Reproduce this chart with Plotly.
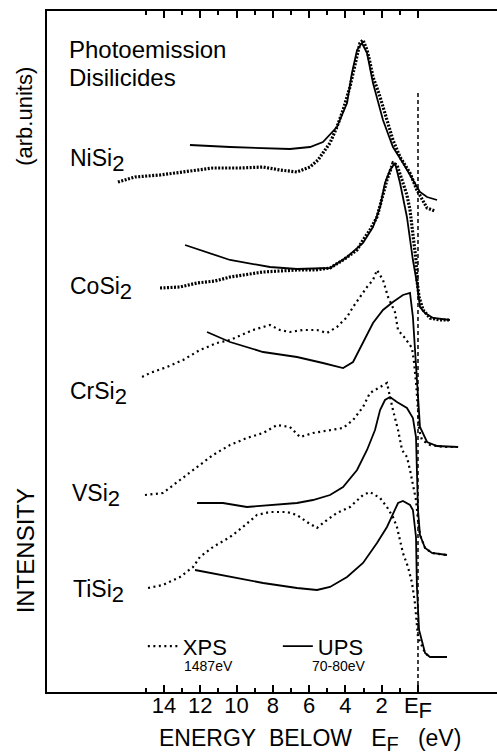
import plotly.graph_objects as go

# ---- data: energy below E_F (eV) and intensity (arb. units, spectra offset) ----
nisi2_xps_e = [16.54, 15.60, 14.22, 12.84, 11.30, 9.81, 8.54, 7.61, 6.67, 5.95, 5.51, 5.24, 4.85, 4.47, 4.13,
               3.75, 3.53, 3.36, 3.20, 3.03, 2.81, 2.65, 2.48, 2.26, 2.09, 1.71, 1.38, 0.99, 0.72, 0.44, 0.06,
               -0.28, -0.50, -0.94]
nisi2_xps_i = [510, 515, 517, 520, 524, 524, 525, 522, 520, 525, 532, 539, 549, 565, 582,
               605, 622, 635, 649, 652, 642, 630, 615, 604, 595, 572, 552, 535, 527, 519, 502,
               492, 484, 481]
nisi2_ups_e = [12.57, 10.36, 7.06, 5.95, 5.24, 4.47, 3.91, 3.64, 3.36, 3.09, 2.81, 2.48, 1.93, 1.38, 0.83,
               0.28, -0.11, -0.50, -1.05]
nisi2_ups_i = [547, 545, 543, 545, 550, 565, 589, 619, 642, 649, 639, 609, 572, 545, 529,
               512, 500, 495, 492]

cosi2_xps_e = [14.22, 13.12, 12.18, 11.19, 10.36, 9.26, 8.54, 7.61, 6.67, 5.68, 4.85, 4.13, 3.75, 3.36, 3.03,
               2.65, 2.26, 1.98, 1.71, 1.38, 1.16, 0.88, 0.61, 0.44, 0.28, 0.11, 0.06, -0.06, -0.28, -0.66,
               -1.21, -1.76]
cosi2_xps_i = [404, 405, 409, 411, 415, 418, 420, 421, 422, 422, 424, 432, 437, 442, 452,
               462, 475, 495, 512, 529, 527, 512, 497, 482, 459, 432, 412, 395, 382, 374,
               372, 372]
cosi2_ups_e = [12.84, 10.36, 8.16, 6.67, 4.85, 3.91, 3.03, 2.48, 2.09, 1.82, 1.54, 1.27, 0.99, 0.61, 0.28,
               0.06, -0.11, -0.39, -0.83, -1.76]
cosi2_ups_i = [447, 432, 425, 423, 424, 435, 449, 465, 485, 509, 522, 529, 509, 475, 432,
               409, 385, 379, 374, 372]

crsi2_xps_e = [15.21, 14.77, 13.84, 12.95, 12.02, 11.08, 10.36, 9.54, 9.10, 8.16, 7.61, 7.06, 6.34, 5.57, 5.02,
               4.47, 3.91, 3.58, 3.20, 2.81, 2.48, 2.26, 1.93, 1.65, 1.27, 1.10, 0.72, 0.33, 0.22, 0.11,
               0.00, -0.06, -0.22, -0.66, -1.49, -2.21]
crsi2_xps_i = [315, 319, 325, 332, 342, 349, 352, 359, 362, 367, 362, 360, 362, 362, 359,
               365, 375, 385, 395, 405, 412, 422, 412, 395, 380, 362, 354, 344, 330, 310,
               282, 262, 252, 247, 245, 245]
crsi2_ups_e = [11.63, 10.36, 8.54, 6.67, 5.24, 4.13, 3.58, 3.03, 2.48, 1.93, 1.38, 0.83, 0.44, 0.28, 0.17,
               0.06, -0.06, -0.11, -0.50, -1.05, -2.21]
crsi2_ups_i = [360, 350, 340, 335, 329, 324, 330, 349, 369, 382, 390, 397, 399, 375, 342,
               309, 275, 265, 250, 246, 245]

vsi2_xps_e = [15.05, 14.06, 13.12, 12.18, 11.30, 10.36, 9.43, 8.54, 7.77, 7.06, 6.50, 5.79, 4.85, 4.13, 3.58,
              3.03, 2.65, 2.09, 1.71, 1.38, 1.10, 0.88, 0.61, 0.44, 0.28, 0.11, 0.00, -0.11, -0.39, -0.77,
              -1.60]
vsi2_xps_i = [197, 199, 212, 225, 237, 247, 254, 259, 267, 265, 255, 259, 262, 264, 272,
              285, 299, 305, 309, 282, 262, 242, 235, 222, 209, 192, 172, 157, 144, 139,
              137]
vsi2_ups_e = [12.18, 10.75, 9.43, 8.16, 6.67, 5.79, 4.85, 4.13, 3.36, 2.81, 2.37, 2.09, 1.82, 1.54, 1.16,
              0.61, 0.28, 0.11, 0.06, 0.00, -0.11, -0.39, -0.77, -1.60]
vsi2_ups_i = [189, 189, 185, 187, 189, 192, 197, 205, 222, 242, 262, 282, 292, 295, 290,
              284, 274, 255, 222, 182, 157, 144, 139, 137]

tisi2_xps_e = [14.88, 14.06, 13.12, 12.40, 12.02, 11.30, 10.36, 9.65, 8.88, 8.16, 7.22, 6.67, 6.12, 5.57, 5.02,
               4.47, 3.75, 3.03, 2.65, 2.09, 1.71, 1.38, 1.16, 0.99, 0.83, 0.55, 0.33, 0.17, 0.06, 0.00,
               -0.39, -0.66, -1.60]
tisi2_xps_i = [104, 107, 115, 125, 135, 145, 155, 165, 177, 180, 180, 177, 170, 164, 172,
               179, 185, 197, 200, 194, 185, 175, 165, 152, 139, 125, 109, 89, 69, 55,
               39, 35, 35]
tisi2_ups_e = [12.29, 10.36, 8.54, 6.67, 5.57, 4.85, 3.91, 3.03, 2.26, 1.71, 1.38, 1.10, 0.83, 0.44, 0.28,
               0.11, 0.06, -0.06, -0.39, -0.66, -1.60]
tisi2_ups_i = [122, 115, 109, 104, 102, 105, 115, 129, 149, 165, 179, 189, 191, 187, 182,
               155, 105, 62, 39, 35, 35]

spectra = [
    ("NiSi", nisi2_xps_e, nisi2_xps_i, nisi2_ups_e, nisi2_ups_i, "dense"),
    ("CoSi", cosi2_xps_e, cosi2_xps_i, cosi2_ups_e, cosi2_ups_i, "dense"),
    ("CrSi", crsi2_xps_e, crsi2_xps_i, crsi2_ups_e, crsi2_ups_i, "sparse"),
    ("VSi", vsi2_xps_e, vsi2_xps_i, vsi2_ups_e, vsi2_ups_i, "sparse"),
    ("TiSi", tisi2_xps_e, tisi2_xps_i, tisi2_ups_e, tisi2_ups_i, "sparse"),
]

# label positions (energy, intensity) for compound names
label_names = ["NiSi", "CoSi", "CrSi", "VSi", "TiSi"]
label_e = [19.30, 19.30, 19.30, 19.20, 19.10]
label_i = [532, 404, 299, 197, 101]

major_ticks = [14, 12, 10, 8, 6, 4, 2, 0]
major_text = ["14", "12", "10", "8", "6", "4", "2", "E<sub><span style='font-size:22px'>F</span></sub>"]
minor_ticks = [15, 13, 11, 9, 7, 5, 3, 1]

ef_line_top = 600

FONT = "Liberation Sans"

fig = go.Figure()

for name, xe, xi, ue, ui, dens in spectra:
    fig.add_trace(go.Scatter(x=ue, y=ui, mode="lines", line=dict(color="black", width=1.8),
                             name="UPS", showlegend=False, hoverinfo="skip"))
    if dens == "dense":
        ln = dict(color="black", width=3.2, dash="2px,1.5px")
    else:
        ln = dict(color="black", width=2.2, dash="2px,3.5px")
    fig.add_trace(go.Scatter(x=xe, y=xi, mode="lines", line=ln,
                             name="XPS", showlegend=False, hoverinfo="skip"))

# legend entries (two separate legends)
fig.add_trace(go.Scatter(x=[None], y=[None], mode="lines", legend="legend",
                         line=dict(color="black", width=2.2, dash="2px,3.5px"), name="XPS"))
fig.add_trace(go.Scatter(x=[None], y=[None], mode="lines", legend="legend2",
                         line=dict(color="black", width=1.8), name="UPS"))

# Fermi level dashed line
fig.add_shape(type="line", x0=0, x1=0, y0=0, y1=ef_line_top, xref="x", yref="y",
              line=dict(color="black", width=1.5, dash="4px,3px"))

for nm, le, li in zip(label_names, label_e, label_i):
    fig.add_annotation(x=le, y=li, xref="x", yref="y", xanchor="left", yanchor="middle",
                       text=nm + "<sub><span style='font-size:22px'>2</span></sub>", showarrow=False,
                       font=dict(family=FONT, size=23, color="black"))

fig.add_annotation(x=19.35, y=643, xref="x", yref="y", xanchor="left", yanchor="middle",
                   text="Photoemission", showarrow=False, font=dict(family=FONT, size=24, color="black"))
fig.add_annotation(x=19.35, y=615, xref="x", yref="y", xanchor="left", yanchor="middle",
                   text="Disilicides", showarrow=False, font=dict(family=FONT, size=24, color="black"))

fig.add_annotation(x=-0.049, y=0.208, xref="paper", yref="paper", xanchor="center", yanchor="middle",
                   text="INTENSITY", textangle=-90, showarrow=False,
                   font=dict(family=FONT, size=24, color="black"))
fig.add_annotation(x=-0.049, y=0.846, xref="paper", yref="paper", xanchor="center", yanchor="middle",
                   text="(arb.units)", textangle=-90, showarrow=False,
                   font=dict(family=FONT, size=22, color="black"))

fig.add_annotation(x=0.584, y=-0.071, xref="paper", yref="paper", xanchor="center", yanchor="middle",
                   text="ENERGY\u00a0 BELOW\u00a0\u00a0 E<sub><span style='font-size:20px'>F</span></sub>\u00a0\u00a0 (eV)",
                   showarrow=False, font=dict(family=FONT, size=23, color="black"))

# legend sub-captions
fig.add_annotation(x=13.0, y=26, xref="x", yref="y", xanchor="left", yanchor="middle",
                   text="1487eV", showarrow=False, font=dict(family=FONT, size=14, color="black"))
fig.add_annotation(x=5.96, y=26, xref="x", yref="y", xanchor="left", yanchor="middle",
                   text="70-80eV", showarrow=False, font=dict(family=FONT, size=14, color="black"))

legend_common = dict(xanchor="left", yanchor="top", bgcolor="rgba(0,0,0,0)", itemwidth=30,
                     font=dict(family=FONT, size=22, color="black"))

fig.update_layout(
    width=497, height=755,
    margin=dict(l=47, r=0, t=11, b=63),
    paper_bgcolor="white", plot_bgcolor="white",
    showlegend=True,
    legend=dict(x=0.213, y=0.098, **legend_common),
    legend2=dict(x=0.513, y=0.098, **legend_common),
    xaxis=dict(range=[20.45, -4.355], showgrid=False, zeroline=False,
               showline=True, linecolor="black", linewidth=2, mirror="ticks",
               ticks="inside", ticklen=7, tickwidth=1.5, tickcolor="black",
               tickmode="array", tickvals=major_ticks, ticktext=major_text,
               ticklabelstandoff=-7,
               tickfont=dict(family=FONT, size=22, color="black"),
               minor=dict(tickmode="array", tickvals=minor_ticks, ticks="inside", ticklen=4,
                          tickwidth=1.5, tickcolor="black", showgrid=False)),
    yaxis=dict(range=[0, 681], showgrid=False, zeroline=False, showline=True, linecolor="black",
               linewidth=2, ticks="", showticklabels=False),
)

fig.write_html("out.html", config={"displayModeBar": False},
               post_script="document.body.style.margin='0';")
